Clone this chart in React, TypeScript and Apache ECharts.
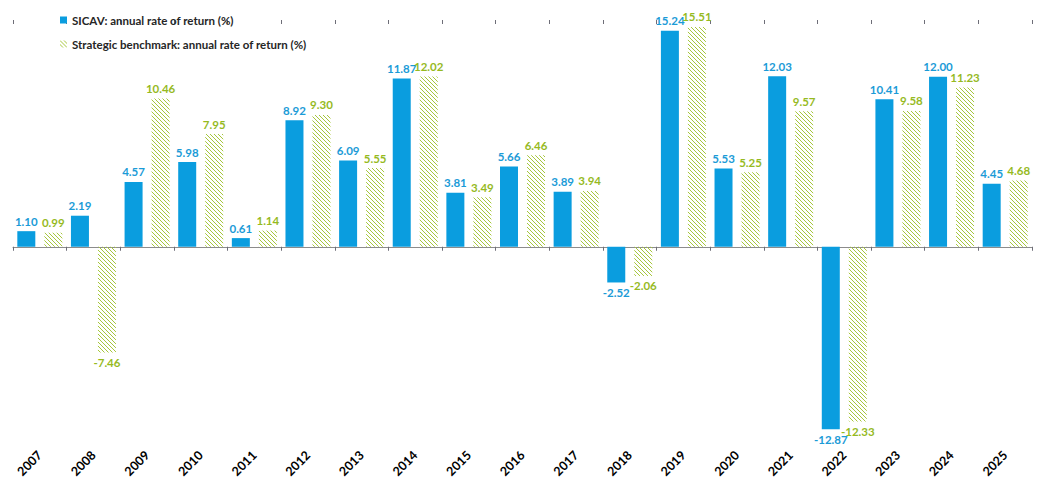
import { useEffect, useRef } from 'react'
import * as echarts from 'echarts'

const years = ['2007', '2008', '2009', '2010', '2011', '2012', '2013', '2014', '2015', '2016', '2017', '2018', '2019', '2020', '2021', '2022', '2023', '2024', '2025']
const sicav = [1.1, 2.19, 4.57, 5.98, 0.61, 8.92, 6.09, 11.87, 3.81, 5.66, 3.89, -2.52, 15.24, 5.53, 12.03, -12.87, 10.41, 12.0, 4.45]
const benchmark = [0.99, -7.46, 10.46, 7.95, 1.14, 9.3, 5.55, 12.02, 3.49, 6.46, 3.94, -2.06, 15.51, 5.25, 9.57, -12.33, 9.58, 11.23, 4.68]
const seriesNames = ['SICAV: annual rate of return (%)', 'Strategic benchmark: annual rate of return (%)']

const BLUE = '#0A9DDF'
const GREEN = '#A6C63C'
const FONT = 'Lato'

// diagonal hatch tile for the benchmark bars
function hatchImage() {
  const c = document.createElement('canvas')
  c.width = 4
  c.height = 4
  const ctx = c.getContext('2d')!
  ctx.strokeStyle = GREEN
  ctx.lineWidth = 1
  ctx.beginPath()
  ctx.moveTo(-1, -1)
  ctx.lineTo(5, 5)
  ctx.moveTo(3, -1)
  ctx.lineTo(5, 1)
  ctx.moveTo(-1, 3)
  ctx.lineTo(1, 5)
  ctx.stroke()
  return c.toDataURL()
}

function withLabels(values: number[], color: string) {
  return values.map((v) => ({
    value: v,
    label: {
      show: true,
      position: v < 0 ? 'bottom' : 'top',
      distance: 4,
      color,
      fontFamily: FONT,
      fontWeight: 'bold',
      fontSize: 11.5,
      formatter: () => v.toFixed(2)
    }
  }))
}

export default function App() {
  const chartRef = useRef<HTMLDivElement>(null)

  useEffect(() => {
    if (!chartRef.current) return
    const chart = echarts.init(chartRef.current, null, { renderer: 'svg' })

    const option = {
      animation: false,
      legend: {
        orient: 'vertical',
        left: 55,
        top: 9,
        itemWidth: 7,
        itemHeight: 7,
        itemGap: 12,
        icon: 'rect',
        textStyle: { color: '#262626', fontFamily: FONT, fontWeight: 'bold', fontSize: 11.5 },
        data: seriesNames
      },
      grid: { left: 13, right: 14, top: 20, height: 411 },
      xAxis: [
        {
          type: 'category',
          data: years,
          axisLine: { onZero: true, lineStyle: { color: '#8C8C8C', width: 1 } },
          axisTick: { show: true, length: 4, lineStyle: { color: '#6E6E78' } },
          axisLabel: { show: false }
        },
        {
          type: 'category',
          data: years,
          axisLine: { show: false, onZero: true },
          axisTick: { show: true, inside: true, length: 4, lineStyle: { color: '#6E6E78' } },
          axisLabel: { show: false }
        },
        {
          type: 'category',
          data: years,
          position: 'bottom',
          axisLine: { show: false, onZero: false },
          axisTick: { show: false },
          axisLabel: {
            rotate: 45,
            margin: 22,
            color: '#000',
            fontFamily: FONT,
            fontWeight: 'bold',
            fontSize: 12.5
          }
        }
      ],
      yAxis: {
        type: 'value',
        min: -13,
        max: 16,
        show: false,
        splitLine: { show: false }
      },
      series: [
        {
          name: seriesNames[0],
          type: 'bar',
          xAxisIndex: 0,
          barWidth: 18,
          barGap: '50%',
          itemStyle: { color: BLUE },
          data: withLabels(sicav, '#1B9BD7')
        },
        {
          name: seriesNames[1],
          type: 'bar',
          xAxisIndex: 0,
          barWidth: 18,
          barGap: '50%',
          itemStyle: { color: { image: hatchImage(), repeat: 'repeat' } },
          data: withLabels(benchmark, '#96BA1F')
        }
      ]
    }

    chart.setOption(option)
    return () => chart.dispose()
  }, [])

  return (
    <div
      ref={chartRef}
      style={{ position: 'fixed', left: 0, top: 0, width: 1046, height: 482, background: '#fff' }}
    />
  )
}
